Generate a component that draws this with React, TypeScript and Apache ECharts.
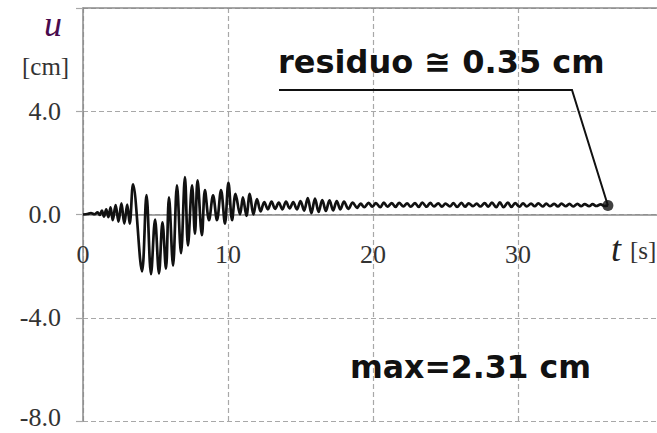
import React, { useEffect, useRef } from "react";
import * as echarts from "echarts";

// Displacement response u(t) [cm] vs time t [s] (extrema)
const onsetPhase: [number, number][] = [
  [0, 0], [0.3, 0.02], [0.55, 0.05], [0.8, 0.01], [1.0, 0.08], [1.15, -0.02],
  [1.3, 0.15], [1.45, -0.08], [1.6, 0.2], [1.75, -0.1], [1.9, 0.28], [2.05, -0.22],
  [2.25, 0.36], [2.45, -0.28], [2.65, 0.43], [2.85, -0.35], [3.05, 0.38], [3.22, -0.35],
];
const strongPhase: [number, number][] = [
  [3.45, 1.17], [4.07, -2.2], [4.38, 0.75], [4.69, -2.31], [4.97, -0.2], [5.24, -2.28],
  [5.48, -0.3], [5.72, -2.1], [5.93, 0.66], [6.21, -1.98], [6.48, 1.13], [6.76, -1.5],
  [7.03, 1.45], [7.24, -1.2], [7.52, 1.13], [7.72, -0.74], [7.9, 1.32], [8.2, -0.8],
  [8.41, 0.95], [8.69, -0.22], [8.97, 0.74], [9.24, -0.22], [9.52, 0.95], [9.79, -0.35],
  [10.03, 1.24], [10.28, -0.22], [10.52, 0.8], [10.83, 0.0], [11.03, 0.66],
];
const decayPhase: [number, number][] = [
  [11.27, -0.05], [11.5, 0.8], [11.75, 0.0], [12.0, 0.6], [12.25, 0.12], [12.5, 0.48],
  [12.75, 0.2], [13.0, 0.5], [13.25, 0.22], [13.5, 0.46], [13.75, 0.2], [14.0, 0.5],
  [14.25, 0.24], [14.5, 0.48], [14.75, 0.2], [15.0, 0.52], [15.25, 0.15], [15.5, 0.64],
  [15.75, 0.05], [16.0, 0.62], [16.25, 0.1], [16.5, 0.56], [16.75, 0.14], [17.0, 0.55],
  [17.25, 0.16], [17.5, 0.52], [17.75, 0.2], [18.0, 0.5], [18.3, 0.22], [18.6, 0.46],
  [18.9, 0.26],
];
const residualPhase: [number, number][] = [
  [19.15, 0.42], [19.4, 0.28], [19.7, 0.45], [19.95, 0.3], [20.2, 0.44], [20.5, 0.28],
  [20.75, 0.46], [21.0, 0.3], [21.3, 0.44], [21.55, 0.29], [21.8, 0.45], [22.1, 0.31],
  [22.35, 0.43], [22.6, 0.3], [22.9, 0.44], [23.15, 0.29], [23.4, 0.46], [23.7, 0.3],
  [23.95, 0.45], [24.2, 0.31], [24.5, 0.43], [24.75, 0.3], [25.0, 0.42], [25.3, 0.31],
  [25.55, 0.44], [25.8, 0.29], [26.1, 0.45], [26.35, 0.3], [26.6, 0.43], [26.9, 0.32],
  [27.15, 0.42], [27.4, 0.31], [27.7, 0.44], [27.95, 0.3], [28.2, 0.46], [28.5, 0.28],
  [28.75, 0.47], [29.0, 0.28], [29.3, 0.46], [29.55, 0.29], [29.8, 0.44], [30.1, 0.3],
  [30.35, 0.43], [30.6, 0.31], [30.9, 0.42], [31.15, 0.32], [31.4, 0.43], [31.7, 0.31],
  [31.95, 0.42], [32.2, 0.32], [32.5, 0.41], [32.75, 0.31], [33.0, 0.42], [33.3, 0.32],
  [33.55, 0.41], [33.8, 0.31], [34.1, 0.41], [34.35, 0.32], [34.6, 0.4], [34.9, 0.32],
  [35.15, 0.4], [35.4, 0.33], [35.7, 0.39], [35.95, 0.33], [36.2, 0.35],
];
const residualPoint: [number, number] = [36.2, 0.35];

const xMin = 0, xMax = 40, xStep = 10;
const yMin = -8, yMax = 8, yStep = 4;

const yAxisName = "u";
const yAxisUnit = "[cm]";
const xAxisName = "t";
const xAxisUnit = "[s]";
const residualLabel = "residuo \u2245 0.35 cm";
const maxLabel = "max=2.31 cm";

const SERIF = "Liberation Serif";
const COMIC = "DejaVu Sans";
const GRID = "#a8a8a8";
const AXIS = "#8a8a8a";

const GRID_TOP = 8;
const GRID_H = 413;

export default function App() {
  const ref = useRef<HTMLDivElement>(null);
  useEffect(() => {
    if (!ref.current) return;
    const chart = echarts.init(ref.current, undefined, { renderer: "svg" });
    const signal = [...onsetPhase, ...strongPhase, ...decayPhase, ...residualPhase];
    // place the labelled time axis on the u = 0 line
    const zeroOffset = -GRID_H * (0 - yMin) / (yMax - yMin);
    chart.setOption({
      animation: false,
      textStyle: { fontFamily: SERIF },
      grid: { left: 83, top: GRID_TOP, width: 580, height: GRID_H, containLabel: false, outerBoundsMode: "none" },
      xAxis: [
        {
          type: "value", min: xMin, max: xMax, interval: xStep, position: "bottom", offset: zeroOffset,
          axisLine: { show: true, onZero: false, lineStyle: { color: AXIS, width: 1.5 } },
          axisTick: { show: false },
          axisLabel: {
            margin: 27, fontFamily: SERIF, fontSize: 26, color: "#333",
            formatter: (v: number) => (v >= xMax ? "" : String(v)),
          },
          splitLine: { show: true, lineStyle: { color: GRID, type: [5, 3], width: 1.2 } },
        },
        {
          type: "value", position: "top", min: xMin, max: xMax, interval: xStep,
          axisLine: { show: true, onZero: false, lineStyle: { color: AXIS, width: 1.5 } },
          axisTick: { show: false }, axisLabel: { show: false }, splitLine: { show: false },
        },
      ],
      yAxis: {
        type: "value", min: yMin, max: yMax, interval: yStep,
        axisLine: { show: true, onZero: false, lineStyle: { color: AXIS, width: 1.5 } },
        axisTick: { show: true, length: 7, lineStyle: { color: GRID, width: 1.2 } },
        axisLabel: {
          margin: 22, fontFamily: SERIF, fontSize: 26, color: "#333",
          formatter: (v: number) => (v >= yMax ? "" : v <= yMin ? `{lo|${v.toFixed(1)}}` : v.toFixed(1)),
          rich: { lo: { fontFamily: SERIF, fontSize: 26, color: "#333", padding: [0, 0, 7, 0] } },
        },
        splitLine: { show: true, lineStyle: { color: GRID, type: [5, 3], width: 1.2 } },
      },
      series: [
        {
          type: "line", data: signal, xAxisIndex: 0, showSymbol: false, symbol: "none",
          smooth: 0.35, lineStyle: { color: "#111", width: 2.7 }, z: 3,
        },
        {
          type: "scatter", data: [residualPoint], xAxisIndex: 0, symbolSize: 11,
          itemStyle: { color: "#111" }, z: 5,
        },
      ],
    });
    const p = chart.convertToPixel({ xAxisIndex: 0, yAxisIndex: 0 }, residualPoint) as number[];
    chart.setOption({
      graphic: [
        { type: "text", x: 44, y: 6, style: { text: yAxisName, fontFamily: SERIF, fontStyle: "italic", fontSize: 36, fill: "#4a0b4e", align: "left", verticalAlign: "top" } },
        { type: "text", x: 22, y: 54, style: { text: yAxisUnit, fontFamily: SERIF, fontSize: 25, fill: "#333", align: "left", verticalAlign: "top" } },
        { type: "text", x: 611, y: 231, style: { text: xAxisName, fontFamily: SERIF, fontStyle: "italic", fontSize: 36, fill: "#222", align: "left", verticalAlign: "top" } },
        { type: "text", x: 630, y: 238, style: { text: xAxisUnit, fontFamily: SERIF, fontSize: 25, fill: "#333", align: "left", verticalAlign: "top" } },
        { type: "text", x: 278, y: 62, style: { text: residualLabel, fontFamily: COMIC, fontWeight: "bold", fontSize: 32, fill: "#111", align: "left", verticalAlign: "middle" } },
        { type: "text", x: 350, y: 367, style: { text: maxLabel, fontFamily: COMIC, fontWeight: "bold", fontSize: 31.5, fill: "#111", align: "left", verticalAlign: "middle" } },
        { type: "polyline", shape: { points: [[279, 90], [572, 90], [p[0], p[1]]] }, style: { stroke: "#111", lineWidth: 2, fill: null }, z: 10 },
      ],
    });
    return () => chart.dispose();
  }, []);
  return <div ref={ref} style={{ position: "fixed", left: 0, top: 0, width: 657, height: 433, background: "#fff" }} />;
}
